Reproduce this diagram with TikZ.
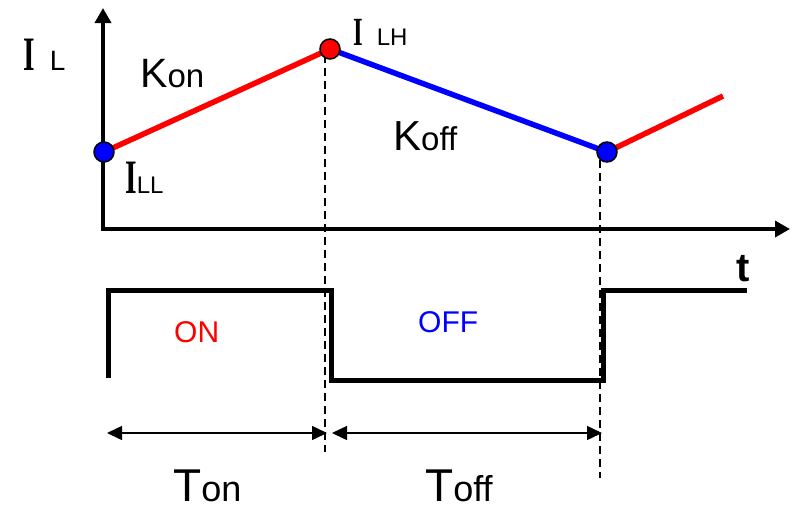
\documentclass[tikz,border=0pt]{standalone}
\usepackage{fontspec}
\setmainfont{Liberation Sans}
\newfontfamily\serifI{Liberation Serif}
\usetikzlibrary{arrows.meta}
\newcommand{\fs}[1]{\fontsize{#1}{#1}\selectfont}
\newcommand{\bigI}[1]{\scalebox{0.62}[1]{\serifI\bfseries\fs{#1}I}}
\tikzset{
  lbl/.style={inner sep=0pt, anchor=base west},
  axis/.style={line width=3.5pt, {Triangle[length=15pt,width=16pt]}-{Triangle[length=15pt,width=16pt]}},
  seg/.style={line width=5.5pt},
  dot/.style={circle, draw=black, line width=1.5pt, minimum size=20pt, inner sep=0pt},
  guide/.style={line width=1.5pt, dash pattern=on 8pt off 5pt},
  wave/.style={line width=5pt, line join=miter},
  dim/.style={line width=1.5pt, {Triangle[length=15pt,width=14pt]}-{Triangle[length=15pt,width=14pt]}},
}
\begin{document}
\begin{tikzpicture}[x=1pt,y=-1pt]
\useasboundingbox (0,0) rectangle (795,512);
% axes
\coordinate (ytip) at (103,8);
\coordinate (O) at (103,229);
\coordinate (xtip) at (790,229);
\draw[axis] (ytip) -- (O) -- (xtip);
% guides
\coordinate (g1a) at (325,55);
\coordinate (g1b) at (325,452);
\coordinate (g2a) at (600,160);
\coordinate (g2b) at (600,478);
\draw[guide] (g1a) -- (g1b);
\draw[guide] (g2a) -- (g2b);
% current waveform
\coordinate (pLL) at (104,152);
\coordinate (pLH) at (330,49);
\coordinate (pLL2) at (607,152);
\coordinate (pend) at (723,96);
\draw[seg, red] (pLL) -- (pLH);
\draw[seg, blue] (pLH) -- (pLL2);
\draw[seg, red] (pLL2) -- (pend);
\node[dot, fill=blue] (dLL) at (pLL) {};
\node[dot, fill=red] (dLH) at (pLH) {};
\node[dot, fill=blue] (dLL2) at (pLL2) {};
% labels top
\node[lbl] (IL) at (23,70) {\bigI{48}\hspace{15pt}\fs{28}L};
\node[lbl] (Kon) at (140,87) {\fs{41}K\fs{33}on};
\node[lbl] (ILL) at (125,193) {\bigI{48}\fs{24}LL};
\node[lbl] (ILH) at (353,45) {\bigI{40}\hspace{14pt}\fs{24}LH};
\node[lbl] (Koff) at (393,150) {\fs{42}K\fs{33}off};
\node[lbl] (t) at (736,281) {\bfseries\fs{40}t};
% switch waveform
\coordinate (w0) at (108,378);
\coordinate (w1) at (108,290);
\coordinate (w2) at (331,290);
\coordinate (w3) at (331,380);
\coordinate (w4) at (603,380);
\coordinate (w5) at (603,290);
\coordinate (w6) at (747,290);
\draw[wave] (w0) -- (w1) -- (w2) -- (w3) -- (w4) -- (w5) -- (w6);
\node[lbl, text=red] (ON) at (174,342) {\fs{30}ON};
\node[lbl, text=blue] (OFF) at (418,332) {\fs{30}OFF};
% dimension arrows
\coordinate (d1a) at (107,433);
\coordinate (d1b) at (327,433);
\coordinate (d2a) at (332,433);
\coordinate (d2b) at (602,433);
\draw[dim] (d1a) -- (d1b);
\draw[dim] (d2a) -- (d2b);
\node[lbl] (Ton) at (173,501) {\fs{46}T\fs{36}on};
\node[lbl] (Toff) at (425,501) {\fs{46}T\fs{36}off};
\end{tikzpicture}
\end{document}
